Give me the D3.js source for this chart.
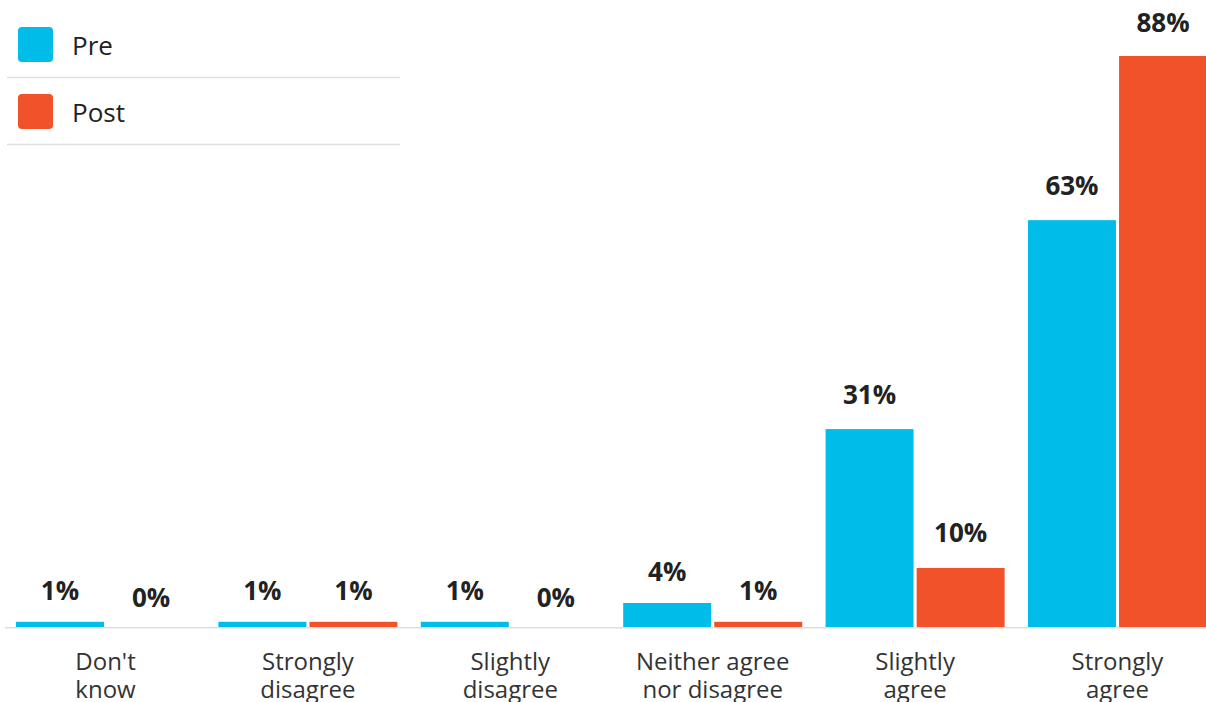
<!DOCTYPE html>
<html>
<head>
<meta charset="utf-8">
<script src="https://cdn.jsdelivr.net/npm/d3@7"></script>
<style>
  html, body { margin: 0; padding: 0; background: #fff; }
  svg { display: block; font-family: 'Open Sans', sans-serif; }
</style>
</head>
<body>
<div id="chart"></div>
<script>
// Pre / Post survey responses - grouped bars
const categories = [
  ["Don't", "know"],
  ["Strongly", "disagree"],
  ["Slightly", "disagree"],
  ["Neither agree", "nor disagree"],
  ["Slightly", "agree"],
  ["Strongly", "agree"]
];
const seriesNames = ["Pre", "Post"];
// bar heights (unrounded) and the rounded labels shown above them
const preValues = [0.8, 0.8, 0.8, 3.7, 30.5, 62.7];
const postValues = [0, 0.8, 0, 0.8, 9.1, 88];
const preLabels = [1, 1, 1, 4, 31, 63];
const postLabels = [0, 1, 0, 1, 10, 88];

(function() {
  const width = 1206;
  const height = 702;
  const baseline = 627;

  const colors = { "Pre": "#00bce8", "Post": "#f2522a" };
  const textColor = '#222';

  const svg = d3.select('#chart')
    .append('svg')
    .attr('width', width)
    .attr('height', height);

  const x0 = d3.scaleBand()
    .domain(d3.range(categories.length))
    .range([16, 1207])
    .paddingInner(0.1156)
    .paddingOuter(0);

  const x1 = d3.scaleBand()
    .domain(seriesNames)
    .range([0, x0.bandwidth()])
    .paddingInner(0.034);

  const y = d3.scaleLinear()
    .domain([0, 88])
    .range([baseline, 56]);

  // label baselines
  const yLabel = d3.scaleLinear()
    .domain([0, 88])
    .range([607, 32]);

  const rows = categories.map((c, i) => ({
    i,
    values: [
      { key: "Pre", value: preValues[i], label: preLabels[i] },
      { key: "Post", value: postValues[i], label: postLabels[i] }
    ]
  }));

  // Baseline
  svg.append('line')
    .attr('x1', 5)
    .attr('x2', width)
    .attr('y1', baseline + 0.75)
    .attr('y2', baseline + 0.75)
    .attr('stroke', '#dedede')
    .attr('stroke-width', 1.5);

  const groups = svg.append('g')
    .selectAll('g')
    .data(rows)
    .join('g')
    .attr('transform', d => `translate(${x0(d.i)},0)`);

  groups.selectAll('rect')
    .data(d => d.values)
    .join('rect')
    .attr('x', d => x1(d.key))
    .attr('y', d => y(d.value))
    .attr('width', x1.bandwidth())
    .attr('height', d => baseline - y(d.value))
    .attr('fill', d => colors[d.key]);

  // Value labels
  groups.selectAll('text.val')
    .data(d => d.values)
    .join('text')
    .attr('class', 'val')
    .attr('x', d => x1(d.key) + x1.bandwidth() / 2)
    .attr('y', d => Math.min(yLabel(d.label), y(d.value) - 20))
    .attr('text-anchor', 'middle')
    .attr('fill', textColor)
    .attr('font-size', '26px')
    .attr('font-weight', 'bold')
    .text(d => d.label + '%');

  // Category labels
  const catText = svg.append('g')
    .selectAll('text')
    .data(rows)
    .join('text')
    .attr('x', d => x0(d.i) + x0.bandwidth() / 2)
    .attr('y', 670)
    .attr('text-anchor', 'middle')
    .attr('fill', '#333')
    .attr('font-size', '24px');

  catText.selectAll('tspan')
    .data(d => categories[d.i])
    .join('tspan')
    .attr('x', function() { return d3.select(this.parentNode).attr('x'); })
    .attr('dy', (d, j) => j === 0 ? 0 : 27.5)
    .text(d => d);

  // Legend
  const legend = svg.append('g');
  seriesNames.forEach((name, i) => {
    const top = 27 + i * 67;
    legend.append('rect')
      .attr('x', 18)
      .attr('y', top)
      .attr('width', 35)
      .attr('height', 35)
      .attr('rx', 4)
      .attr('fill', colors[name]);

    legend.append('text')
      .attr('x', 72)
      .attr('y', top + 28)
      .attr('fill', textColor)
      .attr('font-size', '26px')
      .text(name);

    legend.append('line')
      .attr('x1', 7)
      .attr('x2', 400)
      .attr('y1', top + 50.5)
      .attr('y2', top + 50.5)
      .attr('stroke', '#e0e0e0')
      .attr('stroke-width', 1.5);
  });
})();
</script>
</body>
</html>
